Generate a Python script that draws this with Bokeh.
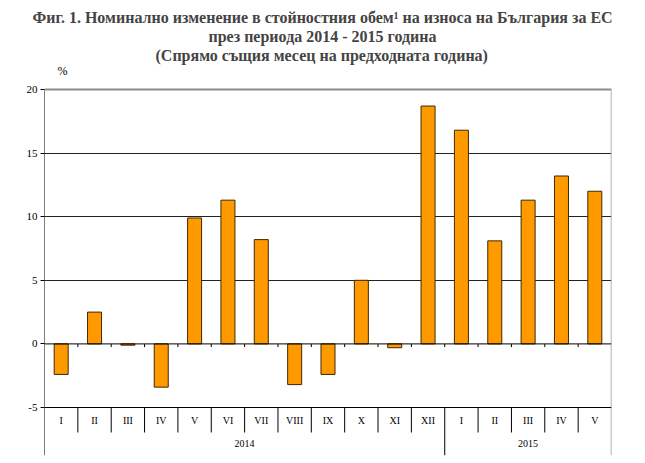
from bokeh.plotting import figure
from bokeh.models import FactorRange, Range1d, FixedTicker, Span, Title, ColumnDataSource
from bokeh.embed import file_html
from bokeh.resources import INLINE
from bokeh.core.properties import value

# ---- data ----
years = ["2014"] * 12 + ["2015"] * 5
months = ["I", "II", "III", "IV", "V", "VI", "VII", "VIII", "IX", "X", "XI", "XII",
          "I", "II", "III", "IV", "V"]
values = [-2.4, 2.5, -0.1, -3.4, 9.9, 11.3, 8.2, -3.2, -2.4, 5.0, -0.3, 18.7,
          16.8, 8.1, 11.3, 13.2, 12.0]
y_ticks = [-5, 0, 5, 10, 15, 20]
y_tick_labels = ["-5", "0", "5", "10", "15", "20"]
grid_ticks = [5, 10, 15]
y_min, y_max = -5, 20

title1 = "Фиг. 1. Номинално изменение в стойностния обем¹ на износа на България за ЕС"
title2 = "през периода 2014 - 2015 година"
title3 = "(Спрямо същия месец на предходната година)"
unit = "%"

FONT = "Liberation Serif"

# ---- layout constants (pixels of the page) ----
W, H = 640, 456
FRAME_LEFT, FRAME_RIGHT = 44, 611
CANVAS_TOP = 63            # top of drawing frame (holds the "%" label)
TOP20, ZERO5, FRAME_BOTTOM = 89, 407, 455
px_per_unit = (ZERO5 - TOP20) / float(y_max - y_min)
y_bottom = y_min - (FRAME_BOTTOM - ZERO5) / px_per_unit
y_top = y_max + (TOP20 - CANVAS_TOP) / px_per_unit
y_month_sep = y_min - (432 - ZERO5) / px_per_unit
y_month_lab = y_min - (420 - ZERO5) / px_per_unit
y_year_lab = y_min - (443 - ZERO5) / px_per_unit
y_unit_lab = y_max + (TOP20 - 70) / px_per_unit

factors = list(zip(years, months))
n = len(factors)
px_per_cat = (FRAME_RIGHT - FRAME_LEFT) / float(n)

xr = FactorRange(*factors, factor_padding=0, group_padding=0, subgroup_padding=0,
                 range_padding=0)

p = figure(width=W, height=H, x_range=xr, y_range=Range1d(y_bottom, y_top),
           output_backend="svg", toolbar_location=None, x_axis_location=None,
           min_border_left=FRAME_LEFT, min_border_right=W - FRAME_RIGHT,
           min_border_bottom=H - FRAME_BOTTOM, min_border_top=CANVAS_TOP)
p.outline_line_color = None
p.background_fill_color = "white"
p.xgrid.visible = False

# y axis (line drawn separately so it stops at 20)
yax = p.yaxis[0]
yax.ticker = FixedTicker(ticks=y_ticks)
yax.major_label_overrides = {t: l for t, l in zip(y_ticks, y_tick_labels)}
yax.minor_tick_line_color = None
yax.major_tick_in = 0
yax.major_tick_out = 4
yax.axis_line_color = None
yax.major_tick_line_color = "black"
yax.major_label_text_font = FONT
yax.major_label_text_font_size = "11px"
yax.major_label_text_color = "black"
yax.major_label_standoff = 3

p.ygrid.ticker = FixedTicker(ticks=grid_ticks)
p.ygrid.grid_line_color = "#222222"
p.ygrid.grid_line_width = 1

p.add_layout(Span(location=y_max, dimension="width", line_color="#8c8c8c", line_width=2))
p.add_layout(Span(location=0, dimension="width", line_color="black", line_width=1))
p.add_layout(Span(location=y_min, dimension="width", line_color="black", line_width=1))
# right border (grey) and left axis line
p.segment(x0=[n], x1=[n], y0=[y_bottom], y1=[y_max], line_color="#999999", line_width=1.5)
p.segment(x0=[0], x1=[0], y0=[y_bottom], y1=[y_max], line_color="black", line_width=1)

# bars
src = ColumnDataSource(dict(x=factors, top=values))
p.vbar(x="x", top="top", bottom=0, width=0.42, source=src,
       fill_color="#FF9900", line_color="#3d2b00", line_width=1)

# zero-line ticks and table separators
bounds = list(range(1, n))
year_bounds = [i for i in bounds if years[i] != years[i - 1]]
month_bounds = [i for i in bounds if i not in year_bounds]
p.segment(x0=bounds, x1=bounds, y0=[0] * len(bounds), y1=[-0.25] * len(bounds),
          line_color="black", line_width=1)
p.segment(x0=month_bounds, x1=month_bounds, y0=[y_min] * len(month_bounds),
          y1=[y_month_sep] * len(month_bounds), line_color="black", line_width=1)
p.segment(x0=year_bounds, x1=year_bounds, y0=[y_min] * len(year_bounds),
          y1=[y_bottom] * len(year_bounds), line_color="black", line_width=1)

# month and year labels
p.text(x=factors, y=[y_month_lab] * n, text=months, text_align="center",
       text_baseline="middle", text_font=value(FONT), text_font_size="10px",
       text_color="black")
uy = []
for y in years:
    if y not in uy:
        uy.append(y)
yc = []
for y in uy:
    idx = [i for i, v in enumerate(years) if v == y]
    yc.append((idx[0] + idx[-1] + 1) / 2.0)
p.text(x=yc, y=[y_year_lab] * len(uy), text=uy, text_align="center",
       text_baseline="middle", text_font=value(FONT), text_font_size="10px",
       text_color="black")

# unit label above the axis
p.text(x=[13 / px_per_cat], y=[y_unit_lab], text=[unit], text_align="left",
       text_baseline="middle", text_font=value(FONT), text_font_size="12px",
       text_color="black")

# titles (first added sits nearest the frame)
for t, off in [(title3, 111), (title2, 164), (title1, -12)]:
    p.add_layout(Title(text=t, align="left", offset=off, text_font=FONT,
                       text_font_size="16px", text_font_style="bold", standoff=0), "above")

open("out.html", "w").write(file_html(p, INLINE))
